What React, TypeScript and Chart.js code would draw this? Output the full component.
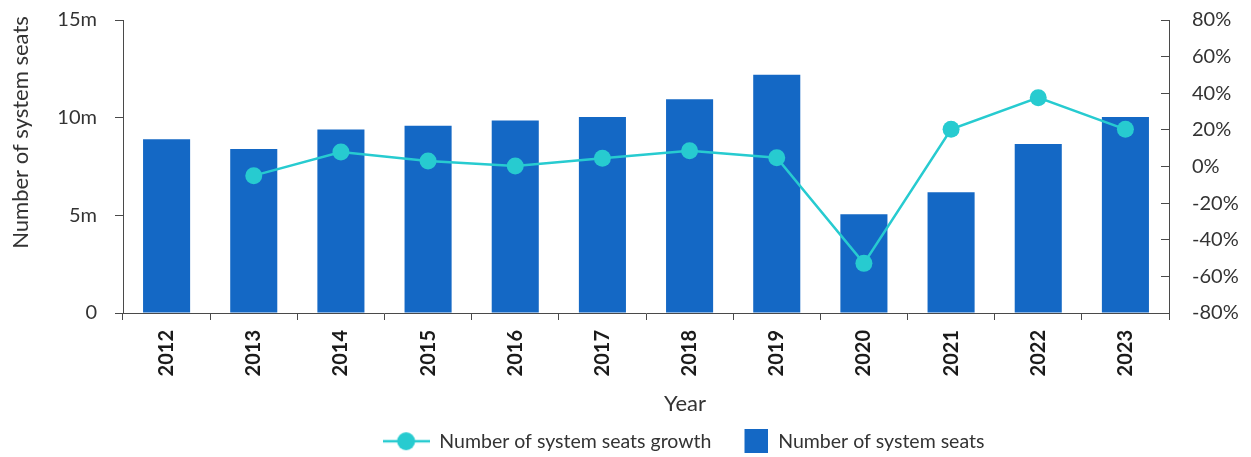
import React, { useEffect, useRef } from "react";
import { Chart, registerables } from "chart.js";

Chart.register(...registerables);

const years = ["2012", "2013", "2014", "2015", "2016", "2017", "2018", "2019", "2020", "2021", "2022", "2023"];
const seatsMillions = [8.89, 8.4, 9.4, 9.59, 9.85, 10.03, 10.94, 12.2, 5.05, 6.18, 8.65, 10.03];
const growthPct = [null, -5.0, 7.9, 3.0, 0.3, 4.5, 8.6, 4.8, -52.9, 20.3, 37.6, 20.3];
const leftTicks = [0, 5, 10, 15];
const rightTicks = [-80, -60, -40, -20, 0, 20, 40, 60, 80];

const BAR = "#1468C5";
const LINE = "#27CBD0";
const TEXT = "#333333";
const AXIS = "#4a4a4a";
const FONT = "Lato";

function lineIcon(): HTMLCanvasElement {
  const c = document.createElement("canvas");
  c.width = 47;
  c.height = 20;
  const g = c.getContext("2d")!;
  g.strokeStyle = LINE;
  g.lineWidth = 2.5;
  g.beginPath();
  g.moveTo(0, 10);
  g.lineTo(47, 10);
  g.stroke();
  g.fillStyle = LINE;
  g.beginPath();
  g.arc(23.5, 10, 9, 0, Math.PI * 2);
  g.fill();
  return c;
}

function boxIcon(): HTMLCanvasElement {
  const c = document.createElement("canvas");
  c.width = 47;
  c.height = 24;
  const g = c.getContext("2d")!;
  g.fillStyle = BAR;
  g.fillRect(23, 0, 24, 24);
  return c;
}

const titlesPlugin = {
  id: "axisTitles",
  afterLayout(chart: any) {
    const lg = chart.legend;
    if (lg) {
      lg.left += 116;
      lg.top += 4;
    }
  },
  afterDraw(chart: any) {
    const { ctx, chartArea } = chart;
    ctx.save();
    ctx.fillStyle = TEXT;
    ctx.font = `22px ${FONT}`;
    ctx.textAlign = "center";
    ctx.textBaseline = "middle";
    ctx.fillText("Year", chartArea.left + chartArea.width / 2 + 39, 404);
    ctx.translate(21, chartArea.top + chartArea.height / 2 - 34);
    ctx.rotate(-Math.PI / 2);
    ctx.fillText("Number of system seats", 0, 0);
    ctx.restore();
  },
};

export default function App() {
  const ref = useRef<HTMLCanvasElement>(null);

  useEffect(() => {
    document.body.style.margin = "0";
    const icons = [lineIcon(), boxIcon()];
    const chart = new Chart(ref.current!, {
      type: "bar",
      data: {
        labels: years,
        datasets: [
          {
            type: "line",
            label: "Number of system seats growth",
            data: growthPct,
            yAxisID: "y1",
            borderColor: LINE,
            backgroundColor: LINE,
            borderWidth: 2.5,
            pointRadius: 8.5,
            pointHoverRadius: 8.5,
            pointBorderWidth: 0,
            pointBackgroundColor: LINE,
          } as any,
          {
            type: "bar",
            label: "Number of system seats",
            data: seatsMillions,
            yAxisID: "y",
            backgroundColor: BAR,
            categoryPercentage: 1,
            barPercentage: 0.54,
          },
        ],
      },
      options: {
        responsive: false,
        animation: false,
        devicePixelRatio: 1,
        layout: { padding: { top: 20, left: 0, right: 0, bottom: 0 } },
        plugins: {
          tooltip: { enabled: false },
          legend: {
            position: "bottom",
            labels: {
              usePointStyle: true,
              pointStyleWidth: 47,
              boxHeight: 19,
              padding: 10,
              color: TEXT,
              font: { family: FONT, size: 19.5 },
              generateLabels: (ch: any) =>
                ch.data.datasets.map((ds: any, i: number) => ({
                  text: ds.label,
                  pointStyle: icons[i],
                  fillStyle: "transparent",
                  strokeStyle: "transparent",
                  lineWidth: 0,
                  fontColor: TEXT,
                  hidden: false,
                  datasetIndex: i,
                })),
            },
          },
        },
        scales: {
          x: {
            offset: true,
            grid: {
              offset: true,
              drawOnChartArea: false,
              drawTicks: true,
              tickLength: 7,
              tickColor: AXIS,
            },
            border: { display: true, color: AXIS, width: 1 },
            ticks: {
              minRotation: 90,
              maxRotation: 90,
              padding: 10,
              color: "#1a1a1a",
              font: { family: FONT, size: 20, weight: "bold" },
            },
            afterFit: (scale: any) => {
              const lh = scale.chart.legend ? scale.chart.legend.height : 40;
              scale.height = 457 - lh - 313;
              scale.paddingLeft = 0;
              scale.paddingRight = 0;
            },
          },
          y: {
            position: "left",
            min: 0,
            max: 15,
            afterBuildTicks: (scale: any) => {
              scale.ticks = leftTicks.map((v) => ({ value: v }));
            },
            grid: {
              drawOnChartArea: false,
              drawTicks: true,
              tickLength: 8,
              tickColor: AXIS,
            },
            border: { display: true, color: AXIS, width: 1 },
            ticks: {
              padding: 18,
              color: TEXT,
              font: { family: FONT, size: 20 },
              callback: (v: any) => (Number(v) === 0 ? "0" : `${v}m`),
            },
            afterFit: (scale: any) => {
              scale.width = 123;
              scale.paddingTop = 12;
              scale.paddingBottom = 12;
            },
          },
          y1: {
            position: "right",
            min: -80,
            max: 80,
            afterBuildTicks: (scale: any) => {
              scale.ticks = rightTicks.map((v) => ({ value: v }));
            },
            grid: {
              drawOnChartArea: false,
              drawTicks: true,
              tickLength: -8,
              tickColor: AXIS,
            },
            border: { display: true, color: AXIS, width: 1 },
            ticks: {
              padding: 31,
              color: TEXT,
              font: { family: FONT, size: 20 },
              callback: (v: any) => `${v}%`,
            },
            afterFit: (scale: any) => {
              scale.width = 82;
              scale.paddingTop = 12;
              scale.paddingBottom = 12;
            },
          },
        },
      },
      plugins: [titlesPlugin],
    });
    return () => chart.destroy();
  }, []);

  return (
    <div style={{ position: "fixed", left: 0, top: 0, width: 1251, height: 457, background: "#fff" }}>
      <canvas ref={ref} width={1251} height={457} style={{ display: "block" }} />
    </div>
  );
}
